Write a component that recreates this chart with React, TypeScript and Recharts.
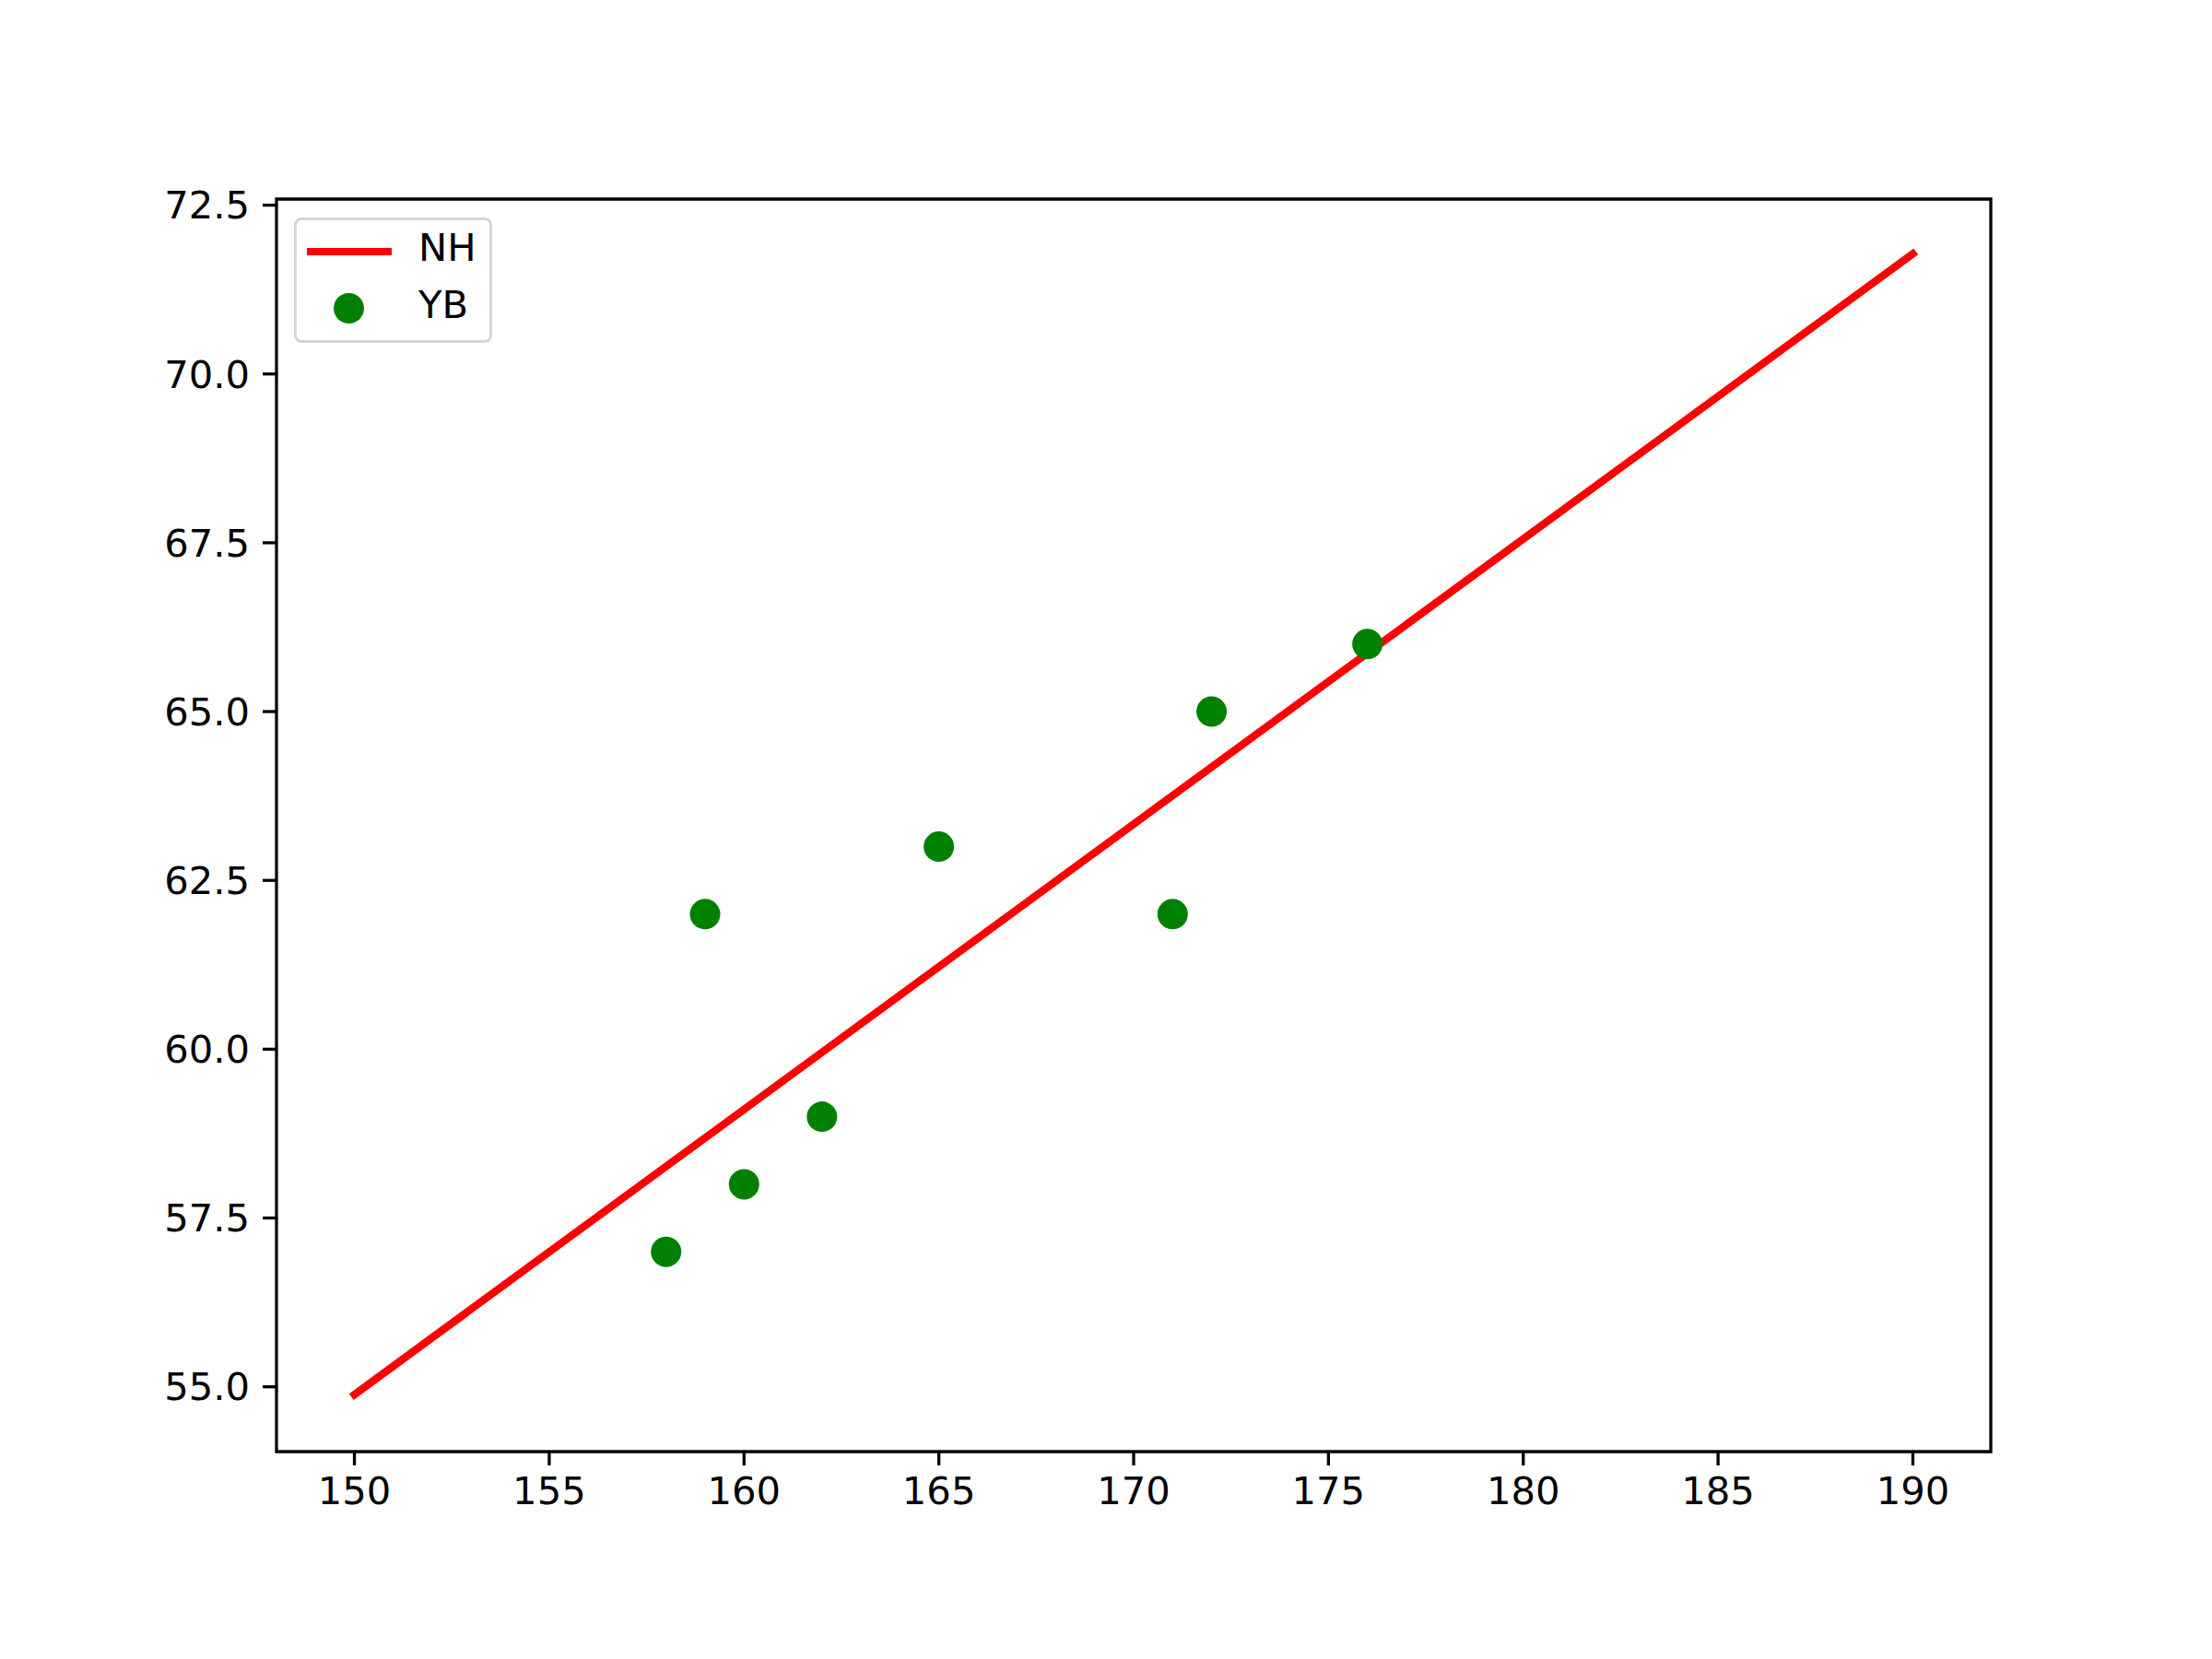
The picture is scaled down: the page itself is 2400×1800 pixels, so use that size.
import React from 'react';
import { ComposedChart, Line, Scatter, XAxis, YAxis, ReferenceArea } from 'recharts';

// observed points (YB)
const heights = [158, 159, 160, 162, 165, 171, 172, 176];
const weights = [57, 62, 58, 59, 63, 62, 65, 66];

// fitted line (NH), read at its two ends
const fitX = [150, 190];
const fitY = [54.885, 71.78];

const xTicks = [150, 155, 160, 165, 170, 175, 180, 185, 190];
const yTicks = [55, 57.5, 60, 62.5, 65, 67.5, 70, 72.5];

const xDomain = [148, 192];
const yDomain = [54.04, 72.59];

const pointData = heights.map((x, i) => ({ x, y: weights[i] }));
const fitData = fitX.map((x, i) => ({ x, fit: fitY[i] }));

const FONT = 'DejaVu Sans, sans-serif';
const tickStyle = { fontSize: 41.7, fill: '#000', fontFamily: FONT };

const Dot = (props: any) => <circle cx={props.cx} cy={props.cy} r={16.5} fill="#008000" />;

const App: React.FC = () => {
  return (
    <div style={{ position: 'absolute', left: 0, top: 0, width: 2400, height: 1800, background: '#fff' }}>
      <ComposedChart
        width={2400}
        height={1800}
        margin={{ top: 216, right: 240, bottom: 75, left: 100 }}
      >
        <XAxis
          type="number"
          dataKey="x"
          domain={xDomain}
          ticks={xTicks}
          allowDataOverflow
          height={150}
          axisLine={false}
          tickLine={{ stroke: '#000', strokeWidth: 3.3 }}
          tickSize={15}
          tickMargin={12}
          tick={tickStyle}
        />
        <YAxis
          type="number"
          domain={yDomain}
          ticks={yTicks}
          allowDataOverflow
          width={200}
          axisLine={false}
          tickLine={{ stroke: '#000', strokeWidth: 3.3 }}
          tickSize={15}
          tickMargin={14}
          tick={tickStyle}
          tickFormatter={(v: number) => v.toFixed(1)}
        />
        <ReferenceArea
          x1={xDomain[0]}
          x2={xDomain[1]}
          y1={yDomain[0]}
          y2={yDomain[1]}
          fill="none"
          stroke="#000"
          strokeWidth={3.3}
          fillOpacity={0}
        />
        <Line
          data={fitData}
          dataKey="fit"
          type="linear"
          stroke="#ff0000"
          strokeWidth={8.3}
          strokeLinecap="square"
          dot={false}
          activeDot={false}
          isAnimationActive={false}
        />
        <Scatter data={pointData} dataKey="y" shape={Dot} isAnimationActive={false} />
      </ComposedChart>

      {/* legend */}
      <div
        style={{
          position: 'absolute',
          left: 319,
          top: 236,
          width: 209,
          height: 130,
          border: '3px solid #d6d6d6',
          borderRadius: 8,
          background: 'rgba(255,255,255,0.8)',
          fontFamily: FONT,
          fontSize: 41.7,
          color: '#000',
        }}
      >
        <div style={{ position: 'absolute', left: 11, top: 30, width: 92, height: 8.3, background: '#ff0000' }} />
        <div style={{ position: 'absolute', left: 132, top: 5, lineHeight: '50px' }}>NH</div>
        <div
          style={{
            position: 'absolute',
            left: 40,
            top: 79,
            width: 33,
            height: 33,
            borderRadius: '50%',
            background: '#008000',
          }}
        />
        <div style={{ position: 'absolute', left: 132, top: 67, lineHeight: '50px' }}>YB</div>
      </div>
    </div>
  );
};

export default App;
